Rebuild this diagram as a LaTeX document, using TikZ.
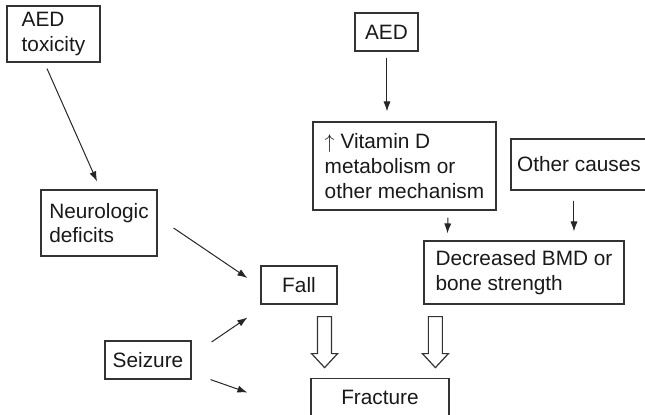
\documentclass[tikz,border=0pt]{standalone}
\usepackage{fontspec}
\setmainfont{Liberation Sans}
\usetikzlibrary{arrows.meta, calc}

\begin{document}
\begin{tikzpicture}[x=0.5pt, y=-0.5pt,
        box/.style={draw=black!80, line width=0.6pt, align=left, inner sep=2pt, text=black!90, font=\fontsize{10.4}{12.3}\selectfont},
        link/.style={-{Latex[length=5pt,width=3.6pt]}, line width=0.5pt, draw=black!85},
        hollow/.style={draw=black!80, line width=0.6pt, fill=white}]
        \useasboundingbox (0,0) rectangle (645,414);

        \node[box, minimum width=46.5pt, minimum height=28pt] (tox) at (53.5,34) {AED\\toxicity};
        \node[box, minimum width=58pt, minimum height=33pt] (neuro) at (99,223) {Neurologic\\deficits};
        \node[box, minimum width=38pt, minimum height=19pt] (fall) at (299,285) {Fall};
        \node[box, minimum width=43pt, minimum height=19pt] (seiz) at (148,360) {Seizure};
        \node[box, minimum width=31.5pt, minimum height=19pt] (aed) at (386.5,32) {AED};
        \node[box, minimum width=91.5pt, minimum height=44pt] (vitd) at (404.5,166) {$\uparrow$ Vitamin D\\metabolism or\\other mechanism};
        \node[box, minimum width=68pt, minimum height=25.5pt] (other) at (579,164.5) {Other causes};
        \node[box, minimum width=100pt, minimum height=31.5pt] (bmd) at (524,272.5) {Decreased BMD or\\bone strength};
        \node[box, minimum width=69pt, minimum height=19pt] (frac) at (380,397.5) {Fracture};

        \draw[link] ($(tox.south)+(-6.5,6)$) -- ($(neuro.north)+(-2,-8)$);
        \draw[link] ($(neuro.east)+(16,5)$) -- ($(fall.west)+(-13,-7)$);
        \draw[link] ($(seiz.east)+(20,-18)$) -- ($(fall.south west)+(-13,13)$);
        \draw[link] ($(seiz.south east)+(19,0)$) -- ($(frac.west)+(-63,-5)$);
        \draw[link] ($(aed.south)+(0.5,6)$) -- ($(aed.south |- vitd.north)+(0.5,-10)$);
        \draw[link] ($(vitd.south)+(43.5,7)$) -- ($(bmd.north west)+(24,-7)$);
        \draw[link] ($(other.south)+(-5,10)$) -- ($(bmd.north)+(50,-9)$);

        % hollow arrows into fracture
        \coordinate (fa) at ($(fall.south east)+(-13,12)$);
        \coordinate (ba) at ($(bmd.south west)+(12,12)$);
        \foreach \c in {fa,ba}
            \draw[hollow] ($(\c)+(-7,0)$) -- ++(14,0) -- ++(0,37) -- ++(6,0) -- ++(-13,14) -- ++(-13,-14) -- ++(6,0) -- cycle;
    \end{tikzpicture}
\end{document}
